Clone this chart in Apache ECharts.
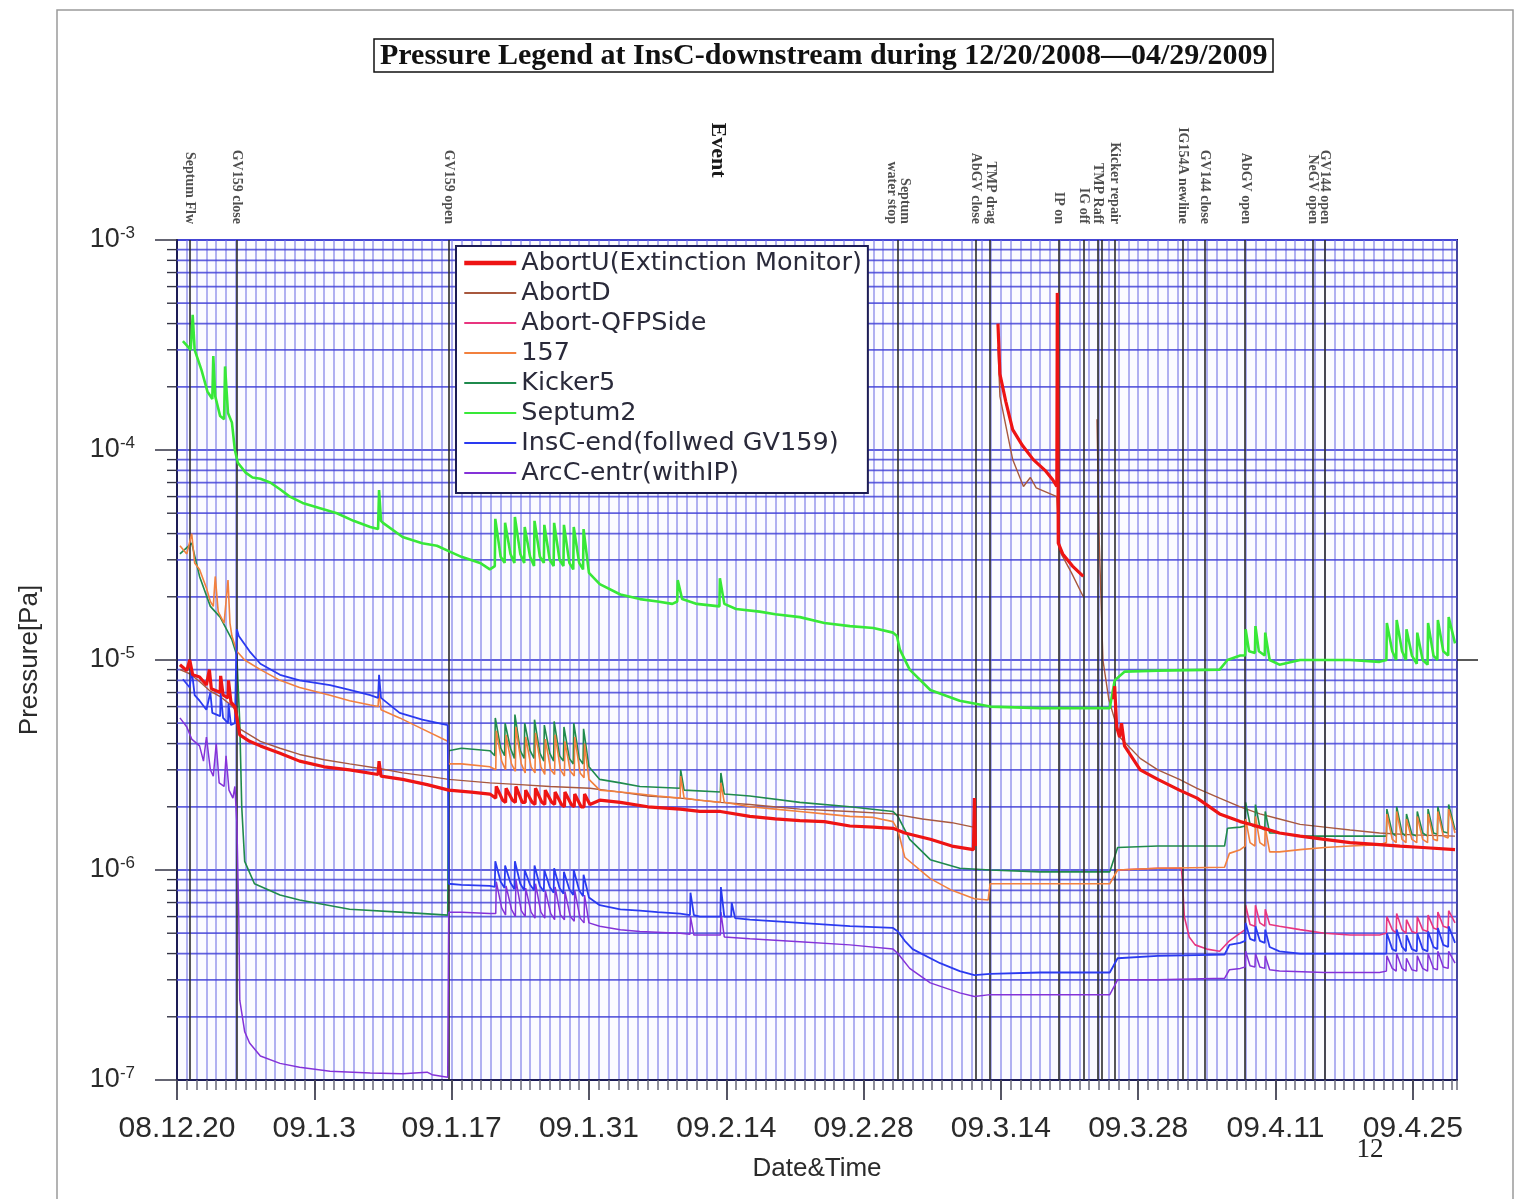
<!DOCTYPE html>
<html>
<head>
<meta charset="utf-8">
<script src="https://cdn.jsdelivr.net/npm/echarts@6/dist/echarts.min.js"></script>
<style>
  html, body { margin: 0; padding: 0; background: #ffffff; }
  #chart { width: 1523px; height: 1199px; }
</style>
</head>
<body>
<div id="chart"></div>
<script>
// Horizontal position of every point is the number of days elapsed since 2008-12-20 00:00.
const xTickLabels = ['08.12.20', '09.1.3', '09.1.17', '09.1.31', '09.2.14', '09.2.28', '09.3.14', '09.3.28', '09.4.11', '09.4.25'];

// Operation events (day, label)
const eventDays = [1.3, 6.1, 27.7, 73.5, 81.4, 82.9, 89.9, 92.4, 93.9, 94.3, 95.6, 102.5, 104.8, 108.9, 115.8, 117.0];
const eventNames = ['Septum Flw', 'GV159 close', 'GV159 open', 'Septum\nwater stop', 'AbGV close', 'TMP drag', 'IP on', 'IG off', 'TMP Raff', '', 'Kicker repair', 'IG154A newline', 'GV144 close', 'AbGV open', 'NeGV open', 'GV144 open'];

const seriesNames = ['AbortU(Extinction Monitor)', 'AbortD', 'Abort-QFPSide', '157', 'Kicker5', 'Septum2', 'InsC-end(follwed GV159)', 'ArcC-entr(withIP)'];

// Pressure readings [day, Pa]; null marks a gap in the record
const abortU = [[0.3,9.5e-6],[1.0,8.9e-6],[1.3,1.0e-5],[1.6,8.5e-6],[2.3,8.3e-6],[3.0,7.6e-6],[3.3,9.0e-6],[3.5,7.3e-6],[4.4,7.0e-6],[4.45,8.4e-6],[4.7,6.8e-6],[5.2,6.6e-6],[5.25,8.0e-6],[5.5,6.3e-6],[5.9,6.0e-6],[6.2,5.0e-6],[6.4,4.4e-6],[7.4,4.1e-6],[8.5,3.9e-6],[10.5,3.6e-6],[12.5,3.3e-6],[15.0,3.1e-6],[17.6,3.0e-6],[20.5,2.85e-6],[20.6,3.3e-6],[20.8,2.8e-6],[23.0,2.7e-6],[25.5,2.55e-6],[27.7,2.4e-6],[30.0,2.35e-6],[31.9,2.3e-6],
  [32.5,2.2e-6],[32.55,2.5e-6],[33.2,2.15e-6],[33.5,2.1e-6],[33.55,2.45e-6],[34.2,2.15e-6],[34.5,2.1e-6],[34.55,2.5e-6],[35.2,2.1e-6],[35.5,2.1e-6],[35.55,2.4e-6],[36.2,2.1e-6],[36.5,2.05e-6],[36.55,2.45e-6],[37.2,2.1e-6],[37.5,2.05e-6],[37.55,2.4e-6],[38.2,2.1e-6],[38.5,2.05e-6],[38.55,2.35e-6],[39.2,2.05e-6],[39.5,2.0e-6],[39.55,2.35e-6],[40.2,2.05e-6],[40.5,2.0e-6],[40.55,2.3e-6],[41.2,2.0e-6],[41.5,2.0e-6],[41.55,2.3e-6],[42.1,2.05e-6],
  [43.1,2.15e-6],[45.2,2.1e-6],[48.0,2.0e-6],[51.3,1.95e-6],[53.3,1.9e-6],[55.4,1.9e-6],[58.4,1.8e-6],[61.0,1.75e-6],[63.5,1.72e-6],[66.0,1.7e-6],[68.6,1.62e-6],[71.0,1.6e-6],[73.0,1.58e-6],[74.2,1.5e-6],[76.8,1.4e-6],[79.0,1.3e-6],[81.2,1.25e-6],[81.3,2.2e-6],[81.4,1.3e-6],[81.6,null],
  [83.7,4.0e-4],[83.9,2.3e-4],[84.5,1.7e-4],[85.2,1.25e-4],[86.2,1.05e-4],[87.3,9.0e-5],[88.5,8.0e-5],[89.3,7.2e-5],[89.7,6.7e-5],[89.75,5.6e-4],[89.85,3.6e-5],[90.3,3.2e-5],[91.3,2.8e-5],[92.4,2.5e-5],[92.6,null],
  [95.5,6.5e-6],[95.6,7.5e-6],[95.8,4.8e-6],[96.1,4.3e-6],[96.3,5.0e-6],[96.6,3.9e-6],[98.2,3.0e-6],[100.0,2.7e-6],[102.2,2.4e-6],[104.0,2.2e-6],[106.3,1.85e-6],[108.4,1.7e-6],[109.4,1.65e-6],[110.4,1.6e-6],[112.4,1.5e-6],[114.5,1.45e-6],[117.0,1.4e-6],[119.6,1.35e-6],[122.6,1.32e-6],[124.7,1.3e-6],[127.0,1.28e-6],[130.3,1.25e-6]];

const abortD = [[0.3,9.0e-6],[1.3,8.6e-6],[2.3,7.9e-6],[3.4,7.1e-6],[4.4,6.7e-6],[5.5,6.1e-6],[6.1,5.7e-6],[6.4,4.7e-6],[8.5,4.1e-6],[10.5,3.8e-6],[12.5,3.55e-6],[15.0,3.35e-6],[17.6,3.2e-6],[20.5,3.05e-6],[23.0,2.9e-6],[25.5,2.8e-6],[27.7,2.7e-6],[31.9,2.6e-6],[35.0,2.55e-6],[38.0,2.5e-6],[42.1,2.45e-6],[45.2,2.35e-6],[48.0,2.25e-6],[51.3,2.2e-6],[55.4,2.1e-6],[58.4,2.05e-6],[63.5,1.95e-6],[68.6,1.9e-6],[73.0,1.85e-6],[76.0,1.75e-6],[79.0,1.68e-6],[81.2,1.6e-6],[81.6,null],
  [83.7,3.1e-4],[83.9,1.8e-4],[85.2,9.0e-5],[86.3,6.7e-5],[87.0,7.4e-5],[87.6,6.6e-5],[89.7,6.0e-5],[90.0,3.3e-5],[91.2,2.6e-5],[92.4,2.0e-5],[92.6,null],
  [93.8,1.4e-4],[94.0,4.0e-5],[94.4,1.0e-5],[95.0,6.5e-6],[95.6,5.2e-6],[96.1,4.3e-6],[98.2,3.4e-6],[100.0,3.0e-6],[102.2,2.7e-6],[104.0,2.45e-6],[106.3,2.2e-6],[108.4,2.0e-6],[110.4,1.85e-6],[112.4,1.75e-6],[114.5,1.65e-6],[117.0,1.6e-6],[119.6,1.55e-6],[122.6,1.5e-6],[126.0,1.47e-6],[130.3,1.45e-6]];

const qfpSide = [[95.9,1.0e-6],[100.0,1.02e-6],[102.4,1.02e-6],[102.5,9.0e-7],[102.7,6.0e-7],[103.2,4.8e-7],[103.8,4.4e-7],[105.0,4.2e-7],[106.3,4.1e-7],[107.3,4.6e-7],[108.4,5.0e-7],[108.9,5.2e-7],[108.95,6.8e-7],[109.4,5.5e-7],[109.9,5.4e-7],[109.95,6.8e-7],[110.4,5.6e-7],[110.9,5.4e-7],[110.95,6.5e-7],[111.4,5.5e-7],[112.4,5.4e-7],[114.5,5.2e-7],[117.0,5.0e-7],[119.6,4.9e-7],[122.6,4.9e-7],
  [123.3,5.0e-7],[123.35,6.0e-7],[123.9,5.2e-7],[124.3,5.0e-7],[124.35,6.2e-7],[124.9,5.2e-7],[125.3,5.0e-7],[125.35,5.8e-7],[125.9,5.1e-7],[126.4,5.0e-7],[126.45,6.0e-7],[127.0,5.2e-7],[127.5,5.1e-7],[127.55,6.1e-7],[128.1,5.3e-7],[128.5,5.2e-7],[128.55,6.3e-7],[129.1,5.4e-7],[129.6,5.3e-7],[129.65,6.4e-7],[130.3,5.6e-7]];

const gauge157 = [[0.3,3.5e-5],[1.0,3.2e-5],[1.5,4.0e-5],[1.8,2.9e-5],[2.3,2.7e-5],[3.0,2.2e-5],[3.4,1.9e-5],[3.7,1.8e-5],[3.9,2.5e-5],[4.2,1.7e-5],[4.8,1.5e-5],[5.2,2.4e-5],[5.4,1.5e-5],[5.6,1.3e-5],[6.1,1.1e-5],[6.9,1.0e-5],[8.5,9.0e-6],[10.5,8.0e-6],[12.5,7.4e-6],[15.6,6.8e-6],[17.6,6.4e-6],[19.7,6.1e-6],[20.5,6.0e-6],[20.6,7.2e-6],[20.8,5.8e-6],[22.7,5.3e-6],[25.0,4.7e-6],[27.6,4.1e-6],[27.7,3.2e-6],[29.0,3.2e-6],[31.9,3.1e-6],
  [32.5,3.0e-6],[32.55,4.6e-6],[33.1,3.3e-6],[33.5,3.0e-6],[33.55,4.4e-6],[34.1,3.2e-6],[34.5,2.95e-6],[34.55,4.8e-6],[35.1,3.2e-6],[35.5,2.9e-6],[35.55,4.3e-6],[36.1,3.1e-6],[36.5,2.9e-6],[36.55,4.5e-6],[37.1,3.1e-6],[37.5,2.85e-6],[37.55,4.2e-6],[38.1,3.0e-6],[38.5,2.85e-6],[38.55,4.4e-6],[39.1,3.0e-6],[39.5,2.8e-6],[39.55,4.1e-6],[40.1,2.95e-6],[40.5,2.8e-6],[40.55,4.3e-6],[41.1,2.9e-6],[41.5,2.75e-6],[41.55,4.0e-6],[42.0,2.7e-6],
  [43.1,2.4e-6],[45.2,2.35e-6],[47.2,2.3e-6],[49.0,2.25e-6],[51.3,2.2e-6],[51.35,2.8e-6],[51.7,2.2e-6],[53.3,2.15e-6],[55.4,2.1e-6],[55.45,2.6e-6],[55.8,2.1e-6],[58.4,2.0e-6],[61.0,1.95e-6],[63.5,1.9e-6],[66.0,1.85e-6],[68.6,1.8e-6],[71.0,1.78e-6],[73.0,1.7e-6],[73.5,1.55e-6],[74.2,1.15e-6],[76.8,9.1e-7],[79.0,8.0e-7],[81.3,7.3e-7],[82.7,7.2e-7],[82.9,8.6e-7],[88.0,8.6e-7],[95.1,8.6e-7],[95.9,1.0e-6],[100.0,1.02e-6],[106.8,1.03e-6],[107.3,1.2e-6],[108.4,1.25e-6],[108.9,1.3e-6],[108.95,1.75e-6],[109.4,1.35e-6],[109.9,1.3e-6],[109.95,1.8e-6],[110.4,1.35e-6],[110.9,1.3e-6],[110.95,1.6e-6],[111.4,1.22e-6],[112.4,1.22e-6],[114.5,1.25e-6],[117.0,1.28e-6],[119.6,1.3e-6],[122.6,1.32e-6],
  [123.3,1.35e-6],[123.35,1.85e-6],[123.9,1.4e-6],[124.3,1.35e-6],[124.35,1.9e-6],[124.9,1.4e-6],[125.3,1.35e-6],[125.35,1.75e-6],[125.9,1.4e-6],[126.4,1.35e-6],[126.45,1.8e-6],[127.0,1.4e-6],[127.5,1.35e-6],[127.55,1.85e-6],[128.1,1.4e-6],[128.5,1.38e-6],[128.55,1.9e-6],[129.1,1.45e-6],[129.6,1.42e-6],[129.65,1.95e-6],[130.3,1.5e-6]];

const kicker5 = [[0.3,3.2e-5],[1.5,3.6e-5],[2.3,2.5e-5],[3.4,1.8e-5],[4.4,1.6e-5],[5.6,1.25e-5],[6.1,1.05e-5],[6.4,5.0e-6],[6.6,2.0e-6],[6.9,1.1e-6],[7.9,8.6e-7],[10.5,7.6e-7],[12.5,7.2e-7],[17.6,6.5e-7],[22.7,6.3e-7],[27.6,6.1e-7],[27.7,3.7e-6],[29.0,3.8e-6],[31.9,3.7e-6],
  [32.4,3.5e-6],[32.45,5.3e-6],[33.0,3.8e-6],[33.4,3.5e-6],[33.45,5.0e-6],[34.0,3.8e-6],[34.4,3.4e-6],[34.45,5.5e-6],[35.0,3.7e-6],[35.4,3.4e-6],[35.45,5.0e-6],[36.0,3.7e-6],[36.4,3.4e-6],[36.45,5.2e-6],[37.0,3.6e-6],[37.4,3.3e-6],[37.45,4.9e-6],[38.0,3.6e-6],[38.4,3.3e-6],[38.45,5.1e-6],[39.0,3.5e-6],[39.4,3.3e-6],[39.45,4.8e-6],[40.0,3.4e-6],[40.4,3.2e-6],[40.45,5.0e-6],[41.0,3.4e-6],[41.4,3.2e-6],[41.45,4.7e-6],[42.0,3.1e-6],
  [43.1,2.7e-6],[45.2,2.6e-6],[47.2,2.5e-6],[51.3,2.45e-6],[51.35,3.0e-6],[51.7,2.4e-6],[55.4,2.35e-6],[55.45,2.9e-6],[55.8,2.3e-6],[58.4,2.25e-6],[63.5,2.1e-6],[68.6,2.0e-6],[73.0,1.9e-6],[73.5,1.8e-6],[74.7,1.4e-6],[76.8,1.12e-6],[79.8,1.02e-6],[82.9,1.0e-6],[88.0,9.8e-7],[95.1,9.8e-7],[95.9,1.28e-6],[100.0,1.3e-6],[106.8,1.3e-6],[107.1,1.58e-6],[108.4,1.6e-6],[108.9,1.62e-6],[108.95,2.1e-6],[109.4,1.65e-6],[109.9,1.6e-6],[109.95,2.05e-6],[110.4,1.6e-6],[110.9,1.55e-6],[110.95,1.9e-6],[111.4,1.5e-6],[112.4,1.5e-6],[114.5,1.45e-6],[117.0,1.45e-6],[122.6,1.45e-6],
  [123.3,1.45e-6],[123.35,1.95e-6],[123.9,1.5e-6],[124.3,1.45e-6],[124.35,2.0e-6],[124.9,1.5e-6],[125.3,1.45e-6],[125.35,1.85e-6],[125.9,1.48e-6],[126.4,1.45e-6],[126.45,1.9e-6],[127.0,1.5e-6],[127.5,1.45e-6],[127.55,1.95e-6],[128.1,1.5e-6],[128.5,1.48e-6],[128.55,2.0e-6],[129.1,1.52e-6],[129.6,1.5e-6],[129.65,2.05e-6],[130.3,1.55e-6]];

const septum2 = [[0.6,3.3e-4],[1.4,3.0e-4],[1.6,4.4e-4],[1.8,3.0e-4],[2.5,2.4e-4],[3.1,1.9e-4],[3.6,1.75e-4],[3.7,2.8e-4],[3.9,1.8e-4],[4.4,1.45e-4],[4.8,1.4e-4],[4.9,2.5e-4],[5.2,1.5e-4],[5.6,1.35e-4],[5.9,1.0e-4],[6.2,8.7e-5],[7.0,7.8e-5],[7.7,7.4e-5],[8.5,7.3e-5],[9.5,7.0e-5],[10.5,6.5e-5],[11.5,6.0e-5],[12.8,5.6e-5],[14.5,5.3e-5],[16.3,5.0e-5],[18.0,4.6e-5],[19.7,4.3e-5],[20.5,4.2e-5],[20.6,6.45e-5],[20.8,4.6e-5],[21.0,4.5e-5],[23.0,3.85e-5],[25.0,3.6e-5],[26.5,3.5e-5],[27.7,3.3e-5],[29.0,3.1e-5],[30.9,2.9e-5],[31.9,2.7e-5],
  [32.4,2.8e-5],[32.45,4.7e-5],[33.0,3.1e-5],[33.4,2.9e-5],[33.45,4.5e-5],[34.0,3.2e-5],[34.4,2.9e-5],[34.45,4.8e-5],[35.0,3.2e-5],[35.4,2.9e-5],[35.45,4.3e-5],[36.0,3.1e-5],[36.4,2.8e-5],[36.45,4.6e-5],[37.0,3.1e-5],[37.4,2.9e-5],[37.45,4.4e-5],[38.0,3.0e-5],[38.4,2.8e-5],[38.45,4.5e-5],[39.0,3.0e-5],[39.4,2.8e-5],[39.45,4.4e-5],[40.0,2.9e-5],[40.4,2.7e-5],[40.45,4.3e-5],[41.0,2.9e-5],[41.4,2.7e-5],[41.45,4.2e-5],[42.0,2.6e-5],
  [43.1,2.3e-5],[45.2,2.05e-5],[47.2,1.95e-5],[49.0,1.9e-5],[50.5,1.85e-5],[51.0,1.9e-5],[51.05,2.4e-5],[51.5,1.95e-5],[53.0,1.85e-5],[55.3,1.8e-5],[55.35,2.45e-5],[55.8,1.85e-5],[57.0,1.75e-5],[59.4,1.7e-5],[61.0,1.65e-5],[63.5,1.6e-5],[66.0,1.5e-5],[68.6,1.45e-5],[71.0,1.42e-5],[73.0,1.35e-5],[73.4,1.3e-5],[73.7,1.12e-5],[74.7,9.0e-6],[76.8,7.2e-6],[79.8,6.4e-6],[82.9,6.0e-6],[88.0,5.9e-6],[95.1,5.9e-6],[95.6,8.0e-6],[96.6,8.8e-6],[100.0,8.9e-6],[106.3,9.0e-6],[107.1,1.0e-5],[108.4,1.05e-5],[108.9,1.05e-5],[108.95,1.4e-5],[109.3,1.1e-5],[109.9,1.08e-5],[109.95,1.45e-5],[110.3,1.1e-5],[110.9,1.05e-5],[110.95,1.35e-5],[111.4,1.0e-5],[112.4,9.5e-6],[114.5,1.0e-5],[117.0,1.0e-5],[119.6,1.0e-5],[122.6,9.8e-6],
  [123.3,1.0e-5],[123.35,1.5e-5],[123.9,1.1e-5],[124.3,1.0e-5],[124.35,1.55e-5],[124.9,1.1e-5],[125.3,1.0e-5],[125.35,1.4e-5],[125.9,1.05e-5],[126.4,9.6e-6],[126.45,1.35e-5],[127.0,1.0e-5],[127.5,9.5e-6],[127.55,1.5e-5],[128.1,1.05e-5],[128.5,1.0e-5],[128.55,1.55e-5],[129.1,1.1e-5],[129.6,1.05e-5],[129.65,1.6e-5],[130.3,1.2e-5]];

const insCEnd = [[0.6,8.1e-6],[1.3,7.4e-6],[1.5,9.0e-6],[1.8,6.8e-6],[2.3,6.4e-6],[3.0,5.8e-6],[3.4,7.0e-6],[3.6,5.6e-6],[4.4,5.4e-6],[4.45,7.0e-6],[4.7,5.3e-6],[5.2,5.0e-6],[5.25,6.2e-6],[5.5,4.9e-6],[5.9,5.0e-6],[6.1,1.4e-5],[6.3,1.3e-5],[7.4,1.1e-5],[8.5,9.6e-6],[10.5,8.5e-6],[12.5,8.0e-6],[15.6,7.6e-6],[17.6,7.2e-6],[19.7,6.8e-6],[20.5,6.6e-6],[20.6,8.5e-6],[20.8,6.6e-6],[22.7,5.6e-6],[25.0,5.2e-6],[27.6,4.9e-6],[27.7,8.6e-7],[29.0,8.5e-7],[31.9,8.4e-7],
  [32.4,8.3e-7],[32.45,1.1e-6],[33.0,8.8e-7],[33.4,8.2e-7],[33.45,1.05e-6],[34.0,8.7e-7],[34.4,8.1e-7],[34.45,1.1e-6],[35.0,8.6e-7],[35.4,8.0e-7],[35.45,1.0e-6],[36.0,8.5e-7],[36.4,8.0e-7],[36.45,1.05e-6],[37.0,8.4e-7],[37.4,7.9e-7],[37.45,1.0e-6],[38.0,8.3e-7],[38.4,7.8e-7],[38.45,1.02e-6],[39.0,8.2e-7],[39.4,7.7e-7],[39.45,9.8e-7],[40.0,8.1e-7],[40.4,7.6e-7],[40.45,1.0e-6],[41.0,8.0e-7],[41.4,7.5e-7],[41.45,9.5e-7],[42.0,7.4e-7],
  [43.1,6.8e-7],[45.2,6.5e-7],[47.2,6.4e-7],[49.0,6.3e-7],[51.3,6.2e-7],[52.3,6.1e-7],[52.35,7.8e-7],[52.7,6.1e-7],[53.3,6.0e-7],[55.4,6.0e-7],[55.45,8.3e-7],[55.8,6.0e-7],[56.5,6.0e-7],[56.55,7.0e-7],[56.9,5.9e-7],[58.4,5.8e-7],[63.5,5.6e-7],[68.6,5.4e-7],[73.0,5.3e-7],[73.5,5.1e-7],[74.2,4.6e-7],[75.0,4.2e-7],[77.8,3.6e-7],[79.8,3.3e-7],[81.3,3.16e-7],[82.9,3.2e-7],[88.0,3.25e-7],[95.1,3.25e-7],[95.9,3.8e-7],[100.0,3.9e-7],[106.8,3.95e-7],[107.3,4.4e-7],[108.4,4.5e-7],[108.9,4.6e-7],[108.95,5.6e-7],[109.4,4.7e-7],[109.9,4.6e-7],[109.95,5.4e-7],[110.4,4.6e-7],[110.9,4.5e-7],[110.95,5.2e-7],[111.4,4.3e-7],[112.4,4.1e-7],[114.5,4.0e-7],[117.0,4.0e-7],[122.6,4.0e-7],
  [123.3,4.0e-7],[123.35,5.0e-7],[123.9,4.2e-7],[124.3,4.1e-7],[124.35,5.2e-7],[124.9,4.3e-7],[125.3,4.1e-7],[125.35,4.9e-7],[125.9,4.2e-7],[126.4,4.1e-7],[126.45,5.0e-7],[127.0,4.2e-7],[127.5,4.1e-7],[127.55,5.1e-7],[128.1,4.3e-7],[128.5,4.2e-7],[128.55,5.3e-7],[129.1,4.4e-7],[129.6,4.3e-7],[129.65,5.4e-7],[130.3,4.5e-7]];

const arcCEntr = [[0.3,5.3e-6],[1.0,4.8e-6],[1.5,4.2e-6],[2.3,3.9e-6],[2.7,3.3e-6],[3.0,4.3e-6],[3.4,3.0e-6],[3.7,2.8e-6],[4.0,4.0e-6],[4.3,2.6e-6],[4.8,2.5e-6],[5.0,3.5e-6],[5.3,2.4e-6],[5.7,2.2e-6],[5.9,2.5e-6],[6.1,1.7e-6],[6.3,6.0e-7],[6.4,2.4e-7],[6.9,1.7e-7],[7.4,1.5e-7],[8.5,1.3e-7],[10.5,1.2e-7],[12.5,1.15e-7],[15.6,1.1e-7],[19.7,1.08e-7],[23.0,1.07e-7],[25.5,1.09e-7],[26.0,1.06e-7],[27.6,1.03e-7],[27.7,6.3e-7],[29.0,6.3e-7],[31.9,6.2e-7],
  [32.5,6.2e-7],[32.55,8.8e-7],[33.1,6.6e-7],[33.5,6.1e-7],[33.55,8.4e-7],[34.1,6.5e-7],[34.5,6.0e-7],[34.55,9.0e-7],[35.1,6.4e-7],[35.5,6.0e-7],[35.55,8.2e-7],[36.1,6.3e-7],[36.5,5.9e-7],[36.55,8.6e-7],[37.1,6.3e-7],[37.5,5.9e-7],[37.55,8.0e-7],[38.1,6.2e-7],[38.5,5.8e-7],[38.55,8.3e-7],[39.1,6.1e-7],[39.5,5.8e-7],[39.55,7.9e-7],[40.1,6.0e-7],[40.5,5.7e-7],[40.55,8.0e-7],[41.1,5.9e-7],[41.5,5.6e-7],[41.55,7.6e-7],[42.0,5.6e-7],
  [43.1,5.4e-7],[45.2,5.2e-7],[47.2,5.1e-7],[51.3,5.0e-7],[52.3,4.95e-7],[52.35,6.0e-7],[52.7,4.9e-7],[55.4,4.9e-7],[55.45,6.3e-7],[55.8,4.8e-7],[58.4,4.7e-7],[63.5,4.55e-7],[68.6,4.4e-7],[73.0,4.2e-7],[73.5,4.0e-7],[74.7,3.4e-7],[76.8,2.9e-7],[79.8,2.6e-7],[81.3,2.5e-7],[82.9,2.55e-7],[88.0,2.55e-7],[95.1,2.55e-7],[95.9,3.0e-7],[100.0,3.0e-7],[106.8,3.05e-7],[107.3,3.35e-7],[108.4,3.4e-7],[108.9,3.45e-7],[108.95,4.1e-7],[109.4,3.5e-7],[109.9,3.45e-7],[109.95,4.0e-7],[110.4,3.45e-7],[110.9,3.4e-7],[110.95,3.9e-7],[111.4,3.35e-7],[112.4,3.3e-7],[117.0,3.25e-7],[122.6,3.25e-7],
  [123.3,3.3e-7],[123.35,3.9e-7],[123.9,3.4e-7],[124.3,3.3e-7],[124.35,4.0e-7],[124.9,3.4e-7],[125.3,3.3e-7],[125.35,3.8e-7],[125.9,3.35e-7],[126.4,3.3e-7],[126.45,3.9e-7],[127.0,3.4e-7],[127.5,3.3e-7],[127.55,4.0e-7],[128.1,3.4e-7],[128.5,3.35e-7],[128.55,4.1e-7],[129.1,3.45e-7],[129.6,3.4e-7],[129.65,4.1e-7],[130.3,3.6e-7]];

const seriesData = [abortU, abortD, qfpSide, gauge157, kicker5, septum2, insCEnd, arcCEntr];

// Trace styling
const seriesColors = ['#ee1414', '#a8583e', '#e8357f', '#f2803e', '#1f8a4c', '#38e838', '#2a3af0', '#8432d8'];
const seriesWidths = [3.2, 1.4, 1.6, 1.6, 1.6, 2.6, 1.8, 1.5];
const seriesZ = [9, 3, 4, 5, 4, 6, 7, 6];

const X_MAX = 130.5;
const GRID_BLUE_H = 'rgba(70,70,215,0.85)';
const GRID_BLUE_V = 'rgba(110,110,230,0.7)';
const FRAME = '#1c1c55';
const SANS = '"Liberation Sans", Arial, sans-serif';
const LEGEND_SANS = '"DejaVu Sans", "Liberation Sans", sans-serif';
const SERIF = '"Liberation Serif", "Times New Roman", serif';

// 2..9 x 10^k intermediate levels of the log grid
const logMinorLevels = [];
for (let k = -7; k <= -4; k++) {
  for (let m = 2; m <= 9; m++) logMinorLevels.push(m * Math.pow(10, k));
}

const majorTickDays = xTickLabels.map((_, i) => i * 14);

const chart = echarts.init(document.getElementById('chart'), null, { renderer: 'canvas' });

const traceSeries = seriesNames.map((name, i) => ({
  type: 'line',
  name: name,
  data: seriesData[i],
  xAxisIndex: 0,
  yAxisIndex: 0,
  showSymbol: false,
  symbol: 'none',
  connectNulls: false,
  clip: true,
  z: seriesZ[i],
  lineStyle: { color: seriesColors[i], width: seriesWidths[i] },
  itemStyle: { color: seriesColors[i] },
  emphasis: { disabled: true },
  silent: true
}));

const option = {
  animation: false,
  backgroundColor: '#ffffff',
  title: {
    text: 'Pressure Legend at InsC-downstream during 12/20/2008\u201404/29/2009',
    left: 374,
    top: 39,
    padding: [2, 6, 1, 6],
    borderColor: '#111111',
    borderWidth: 1.5,
    textStyle: { fontFamily: SERIF, fontWeight: 'bold', fontSize: 30, color: '#111111' }
  },
  legend: {
    data: seriesNames.map((n, i) => ({ name: n, lineStyle: { width: i === 0 ? 4.5 : 1.8 } })),
    orient: 'vertical',
    left: 456,
    top: 246,
    padding: [4, 6, 7, 6],
    itemGap: 4,
    itemWidth: 52,
    itemHeight: 2,
    backgroundColor: '#ffffff',
    borderColor: FRAME,
    borderWidth: 2,
    z: 20,
    selectedMode: false,
    itemStyle: { opacity: 0, borderWidth: 0 },
    textStyle: { fontFamily: LEGEND_SANS, fontSize: 25.5, color: '#2a2a3a', lineHeight: 24, padding: [0, 0, 0, 0] }
  },
  grid: {
    left: 177, right: 66, top: 240, bottom: 119,
    show: true, borderColor: FRAME, borderWidth: 2, backgroundColor: '#fbfbff',
    outerBoundsMode: 'none', containLabel: false
  },
  xAxis: [
    {
      // daily ticks and grid
      type: 'value', min: 0, max: X_MAX, interval: 1, position: 'bottom',
      axisLine: { show: true, lineStyle: { color: FRAME, width: 2 } },
      axisTick: { show: true, inside: false, length: 10, lineStyle: { color: '#6a6a7a', width: 1.5 } },
      axisLabel: { show: false },
      splitLine: { show: true, lineStyle: { color: GRID_BLUE_V, width: 1.5 } }
    },
    {
      // two-week labelled ticks
      type: 'value', min: 0, max: X_MAX, interval: 14, position: 'bottom',
      axisLine: { show: false },
      axisTick: { show: true, inside: false, length: 20, customValues: majorTickDays, lineStyle: { color: '#444455', width: 1.8 } },
      axisLabel: {
        show: true, margin: 34, customValues: majorTickDays,
        fontFamily: SANS, fontSize: 30, color: '#2a2a2a',
        formatter: function (v) {
          const i = Math.round(v / 14);
          return (Math.abs(v - i * 14) < 1e-6 && xTickLabels[i]) ? xTickLabels[i] : '';
        }
      },
      splitLine: { show: false },
      name: 'Date&Time', nameLocation: 'middle', nameGap: 76,
      nameTextStyle: { fontFamily: SANS, fontSize: 26, color: '#2a2a2a' }
    }
  ],
  yAxis: {
    type: 'log', logBase: 10, min: 1e-7, max: 1e-3,
    axisLine: { show: true, lineStyle: { color: FRAME, width: 2 } },
    axisTick: { show: true, inside: false, length: 22, lineStyle: { color: '#333344', width: 1.5 } },
    axisLabel: {
      margin: 42, color: '#2a2a2a',
      formatter: function (v) {
        return '{b|10}{s|' + Math.round(Math.log10(v)) + '}';
      },
      rich: {
        b: { fontFamily: SANS, fontSize: 27, color: '#2a2a2a', lineHeight: 30 },
        s: { fontFamily: SANS, fontSize: 17, color: '#2a2a2a', verticalAlign: 'top', lineHeight: 17 }
      }
    },
    splitLine: { show: true, lineStyle: { color: GRID_BLUE_H, width: 1.8 } },
    name: 'Pressure[Pa]', nameLocation: 'middle', nameGap: 134, nameRotate: 90,
    nameTextStyle: { fontFamily: SANS, fontSize: 26, color: '#2a2a2a' }
  },
  graphic: [
    { id: 'page', type: 'rect', shape: { x: 57, y: 10, width: 1456, height: 1200 },
      style: { fill: 'none', stroke: '#9a9a9a', lineWidth: 1.5 }, silent: true, z: -1 },
    { id: 'eventTitle', type: 'text', x: 718, y: 150, rotation: -Math.PI / 2,
      style: { text: 'Event', font: 'bold 22px "Liberation Serif"', fill: '#1a1a1a',
               textAlign: 'center', textVerticalAlign: 'middle', align: 'center', verticalAlign: 'middle' }, silent: true },
    { id: 'pageNo', type: 'text', x: 1370, y: 1150,
      style: { text: '12', font: '27px "Liberation Serif"', fill: '#222222',
               textAlign: 'center', textVerticalAlign: 'middle', align: 'center', verticalAlign: 'middle' }, silent: true }
  ],
  series: [
    {
      // vertical event markers
      type: 'line', name: 'eventLines', data: [], xAxisIndex: 0, yAxisIndex: 0, z: 2, silent: true,
      markLine: {
        silent: true, symbol: 'none', animation: false, label: { show: false },
        lineStyle: { color: '#2c2c2c', width: 1.6, type: 'solid' },
        emphasis: { disabled: true },
        data: eventDays.map(d => ({ xAxis: d }))
      }
    },
    {
      // event captions above the plot
      type: 'scatter', name: 'eventLabels', xAxisIndex: 0, yAxisIndex: 0, symbolSize: 0, z: 10, silent: true,
      clip: false,
      data: eventDays.map((d, i) => ({ value: [d, 1e-3], label: { formatter: eventNames[i] } })),
      label: {
        show: true, position: [0, -16], rotate: -90, align: 'right', verticalAlign: 'middle',
        fontFamily: SERIF, fontWeight: 'bold', fontSize: 14, lineHeight: 13, color: '#222222'
      },
      emphasis: { disabled: true }
    }
  ].concat(traceSeries)
};

chart.setOption(option);

// Log-grid levels, outer minor ticks on the left and the 1e-5 reference tick on the right,
// all placed through the axis scales.
const x0 = chart.convertToPixel({ xAxisIndex: 0 }, 0);
const x1 = chart.convertToPixel({ xAxisIndex: 0 }, X_MAX);
const extra = [];
logMinorLevels.forEach((v, i) => {
  const py = chart.convertToPixel({ yAxisIndex: 0 }, v);
  extra.push({ id: 'hgrid' + i, type: 'line', silent: true, z: 1,
               shape: { x1: x0, y1: py, x2: x1, y2: py },
               style: { stroke: GRID_BLUE_H, lineWidth: 1.8 } });
  extra.push({ id: 'ytick' + i, type: 'line', silent: true, z: 1,
               shape: { x1: x0 - 10, y1: py, x2: x0, y2: py },
               style: { stroke: '#333344', lineWidth: 1.4 } });
});
const yRef = chart.convertToPixel({ yAxisIndex: 0 }, 1e-5);
extra.push({ id: 'rightRef', type: 'line', silent: true, z: 1,
             shape: { x1: x1, y1: yRef, x2: x1 + 21, y2: yRef },
             style: { stroke: '#222222', lineWidth: 1.5 } });
chart.setOption({ graphic: extra });
</script>
</body>
</html>
